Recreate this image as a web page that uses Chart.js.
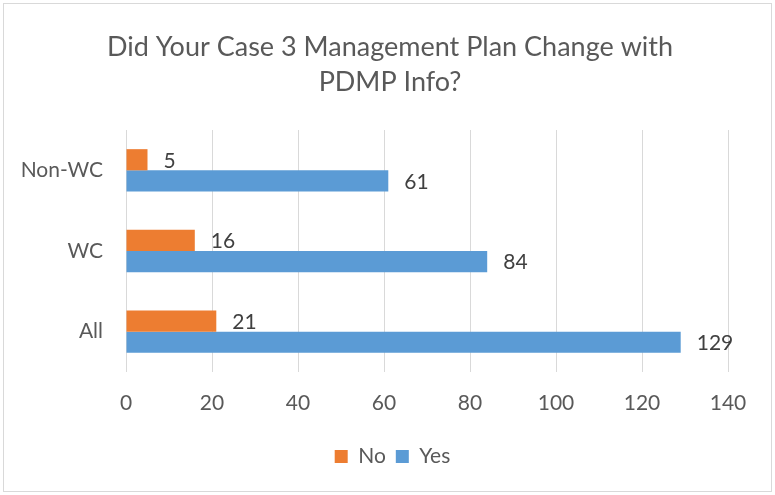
<!DOCTYPE html>
<html lang="en">
<head>
    <meta charset="UTF-8">
    <title>PDMP Case 3</title>
    <script src="https://cdn.jsdelivr.net/npm/chart.js"></script>
    <style>
        body {
            margin: 0;
            padding: 0;
            background: #fff;
        }

        #wrap {
            width: 775px;
            height: 495px;
        }
    </style>
</head>
<body>
    <div id="wrap">
        <canvas id="grafico" width="775" height="495"></canvas>
    </div>

    <script>
        var categorias = ['Non-WC', 'WC', 'All'];
        var valoresNo = [5, 16, 21];
        var valoresYes = [61, 84, 129];
        var tituloLinhas = ['Did Your Case 3 Management Plan Change with', 'PDMP Info?'];

        var fonte = "Lato, 'Open Sans', sans-serif";
        var cinza = '#595959';

        // borda externa, titulo e rotulos de valor
        var extras = {
            id: 'extras',
            afterLayout: function(chart) {
                // centraliza a legenda no quadro inteiro
                var lg = chart.legend;
                var desloc = (chart.width - (lg.left + lg.right)) / 2 + 5;
                lg.left += desloc;
                lg.right += desloc;
            },
            beforeDraw: function(chart) {
                var ctx = chart.ctx;
                ctx.save();
                ctx.fillStyle = '#fff';
                ctx.fillRect(0, 0, chart.width, chart.height);
                ctx.strokeStyle = '#d9d9d9';
                ctx.lineWidth = 1;
                ctx.strokeRect(3.5, 3.5, 768, 488);
                ctx.restore();
            },
            afterDraw: function(chart) {
                var ctx = chart.ctx;
                ctx.save();
                ctx.fillStyle = cinza;
                ctx.font = '27px ' + fonte;
                ctx.textAlign = 'center';
                ctx.textBaseline = 'middle';
                ctx.fillText(tituloLinhas[0], 390, 47);
                ctx.fillText(tituloLinhas[1], 390, 82);
                ctx.restore();
            },
            afterDatasetsDraw: function(chart) {
                var ctx = chart.ctx;
                ctx.save();
                ctx.fillStyle = '#404040';
                ctx.font = '21px ' + fonte;
                ctx.textAlign = 'left';
                ctx.textBaseline = 'middle';
                chart.data.datasets.forEach(function(ds, i) {
                    var meta = chart.getDatasetMeta(i);
                    meta.data.forEach(function(bar, j) {
                        ctx.fillText(String(ds.data[j]), bar.x + 16, bar.y + 1);
                    });
                });
                ctx.restore();
            }
        };

        var grafico = new Chart(document.getElementById('grafico').getContext('2d'), {
            type: 'bar',
            data: {
                labels: categorias,
                datasets: [{
                    label: 'No',
                    data: valoresNo,
                    backgroundColor: '#ed7d31'
                }, {
                    label: 'Yes',
                    data: valoresYes,
                    backgroundColor: '#5b9bd5'
                }]
            },
            options: {
                indexAxis: 'y',
                responsive: false,
                animation: false,
                categoryPercentage: 0.525,
                barPercentage: 1,
                layout: {
                    padding: { left: 0, top: 130, right: 47, bottom: 18 }
                },
                scales: {
                    x: {
                        min: 0,
                        max: 140,
                        ticks: {
                            stepSize: 20,
                            padding: 19,
                            color: cinza,
                            font: { family: fonte, size: 21 }
                        },
                        grid: {
                            color: '#d9d9d9',
                            drawTicks: false
                        },
                        border: { display: false },
                        afterFit: function(scale) { scale.height = 64; }
                    },
                    y: {
                        ticks: {
                            padding: 23,
                            color: cinza,
                            font: { family: fonte, size: 21 }
                        },
                        grid: { display: false, drawTicks: false },
                        border: { display: false },
                        afterFit: function(scale) { scale.width = 126; }
                    }
                },
                plugins: {
                    title: { display: false },
                    tooltip: { enabled: false },
                    legend: {
                        position: 'bottom',
                        labels: {
                            boxWidth: 13,
                            boxHeight: 13,
                            padding: 10,
                            color: cinza,
                            font: { family: fonte, size: 21 }
                        }
                    }
                }
            },
            plugins: [extras]
        });
    </script>
</body>
</html>
